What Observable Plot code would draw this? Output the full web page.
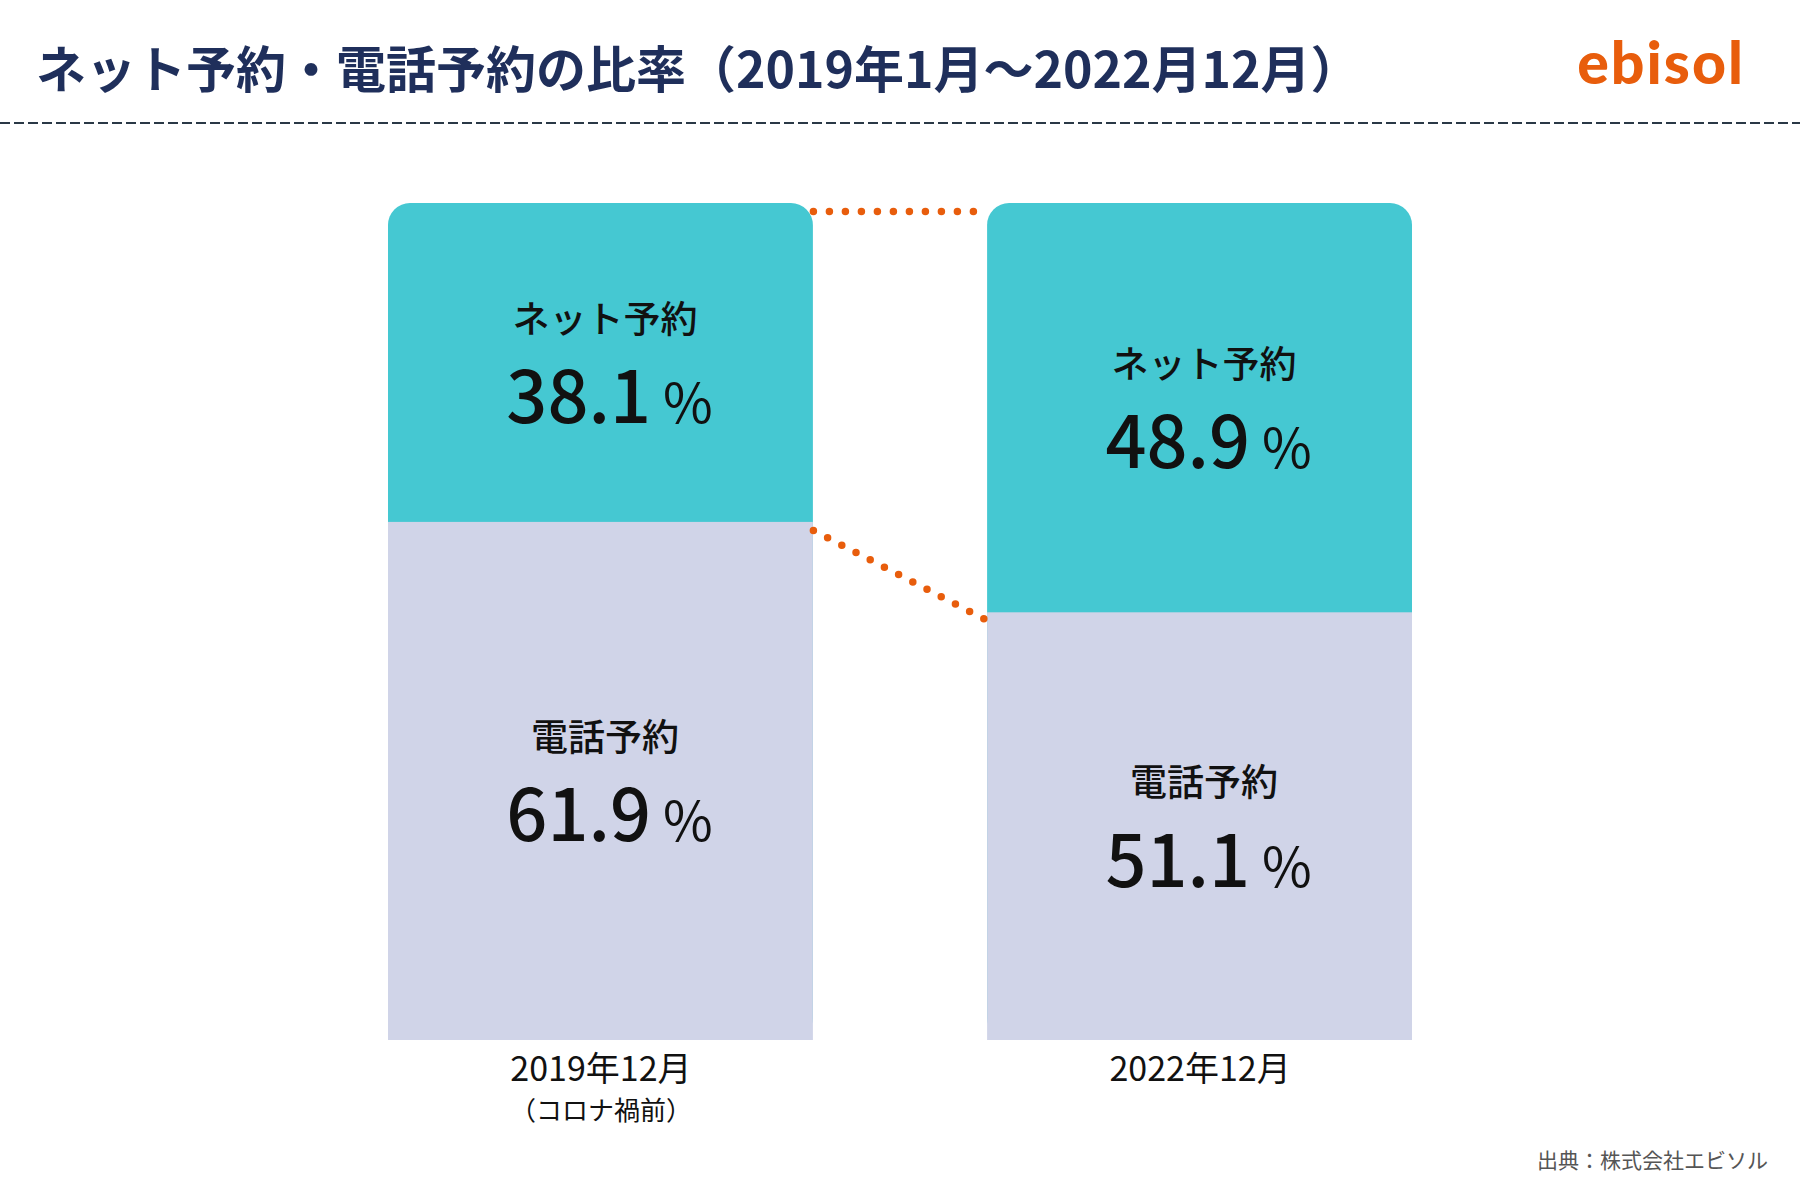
<!DOCTYPE html>
<html lang="ja">
<head>
<meta charset="utf-8">
<script src="https://cdn.jsdelivr.net/npm/d3@7"></script>
<script src="https://cdn.jsdelivr.net/npm/@observablehq/plot@0.6"></script>
<style>
  html, body { margin: 0; padding: 0; background: #ffffff; }
  #page { position: relative; width: 1800px; height: 1200px; overflow: hidden; }
  #header { position: relative; height: 130px; }
  #title {
    position: absolute; left: 36px; top: 34px;
    font-family: "Noto Sans CJK JP", sans-serif; font-weight: 700;
    font-size: 50px; line-height: 64px; color: #1f2f5b; white-space: nowrap;
  }
  #logo {
    position: absolute; right: 55px; top: 30px;
    font-family: Lato, sans-serif; font-weight: 900;
    font-size: 59px; line-height: 64px; color: #e85d0c; letter-spacing: 2px;
  }
  #rule {
    position: absolute; left: 0; top: 122px; width: 1800px; height: 2px;
    background: repeating-linear-gradient(to right, #2a3846 0 10px, transparent 10px 14px);
  }
  #chart svg { display: block; }
  #caption {
    margin-top: 15px; padding-right: 32px; text-align: right;
    font-family: "Noto Sans CJK JP", sans-serif; font-size: 21px; line-height: 28px;
    color: #555555;
  }
</style>
</head>
<body>
<div id="page">
  <div id="header">
    <div id="title">ネット予約・電話予約の比率（2019年1月〜2022月12月）</div>
    <div id="logo">ebisol</div>
    <div id="rule"></div>
  </div>
  <div id="chart"></div>
  <div id="caption">出典：株式会社エビソル</div>
</div>
<script>
// ---- data ----
const periods = ["2019年12月", "2022年12月"];
const notes = ["（コロナ禍前）", ""];
const netShare = [38.1, 48.9];     // ネット予約 (%)
const phoneShare = [61.9, 51.1];   // 電話予約 (%)
const netLabel = "ネット予約";
const phoneLabel = "電話予約";

// ---- layout helpers ----
const gap = 0.41;          // gap between bars, in bar widths
const step = 1 + gap;

const rows = periods.map((p, i) => ({
  period: p,
  note: notes[i],
  net: netShare[i],
  phone: phoneShare[i],
  x1: i * step,
  x2: i * step + 1,
  xc: i * step + 0.5
}));

const segments = rows.flatMap(r => [
  {xc: r.xc, mid: r.phone + r.net / 2, label: netLabel, value: r.net},
  {xc: r.xc, mid: r.phone / 2, label: phoneLabel, value: r.phone}
]);

const links = [
  {x1: rows[0].x2, x2: rows[1].x1, y1: 100, y2: 100},
  {x1: rows[0].x2, x2: rows[1].x1, y1: rows[0].phone, y2: rows[1].phone}
];

const teal = "#45c8d2";
const lavender = "#d0d4e8";
const orange = "#e85d0c";

const chart = Plot.plot({
  width: 1800,
  height: 1000,
  marginLeft: 388,
  marginRight: 388,
  marginTop: 73,
  marginBottom: 90,
  x: {type: "linear", domain: [0, 1 + step], axis: null},
  y: {domain: [0, 100], axis: null},
  style: {fontFamily: "'Noto Sans CJK JP', sans-serif", background: "transparent", overflow: "visible"},
  marks: [
    Plot.rect(rows, {x1: "x1", x2: "x2", y1: 0, y2: 100, fill: teal, rx: 22}),
    Plot.rect(rows, {x1: "x1", x2: "x2", y1: 0, y2: "phone", fill: lavender}),
    Plot.link(links, {
      x1: "x1", y1: "y1", x2: "x2", y2: "y2",
      stroke: orange, strokeWidth: 7.5, strokeDasharray: "0 16", strokeLinecap: "round", dy: 8
    }),
    Plot.text(segments, {
      x: "xc", y: "mid", text: "label", dx: 4, dy: -42,
      fontSize: 37, fontWeight: 500, fill: "#111111"
    }),
    Plot.text(segments, {
      x: "xc", y: "mid", text: d => d.value.toFixed(1), textAnchor: "end", lineAnchor: "bottom",
      dx: 50, dy: 60, fontSize: 72, fontWeight: 500, fill: "#111111"
    }),
    Plot.text(segments, {
      x: "xc", y: "mid", text: () => "%", textAnchor: "start", lineAnchor: "bottom",
      dx: 62, dy: 60, fontSize: 54, fontWeight: 400, fill: "#111111"
    }),
    Plot.text(rows, {
      x: "xc", y: 0, text: "period", dy: 30,
      fontSize: 34, fontWeight: 400, fill: "#111111"
    }),
    Plot.text(rows, {
      x: "xc", y: 0, text: "note", dy: 71,
      fontSize: 26, fontWeight: 400, fill: "#111111"
    })
  ]
});

document.getElementById("chart").appendChild(chart);
</script>
</body>
</html>
